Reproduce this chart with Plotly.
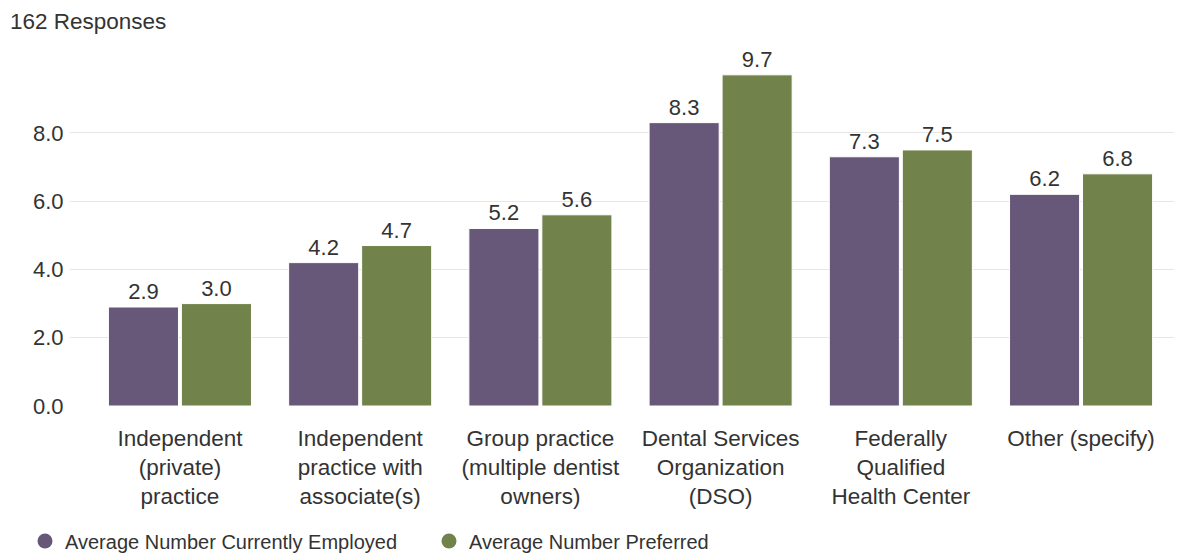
import plotly.graph_objects as go

categories = [
    "Independent<br>(private)<br>practice",
    "Independent<br>practice with<br>associate(s)",
    "Group practice<br>(multiple dentist<br>owners)",
    "Dental Services<br>Organization<br>(DSO)",
    "Federally<br>Qualified<br>Health Center",
    "Other (specify)",
]
employed = [2.9, 4.2, 5.2, 8.3, 7.3, 6.2]
preferred = [3.0, 4.7, 5.6, 9.7, 7.5, 6.8]
series_names = ["Average Number Currently Employed", "Average Number Preferred"]
colors = ["#67587a", "#71834a"]
ytick_vals = [0, 2, 4, 6, 8]

FONT = "Liberation Sans, Arial, sans-serif"
TXT = "#333333"

# the page body adds an 8px offset, so the figure is sized to the visible area
W, H = 1174, 546
L, R, T, B = 62, 0, 60, 148
PW, PH = W - L - R, H - T - B

fig = go.Figure()
for vals, name, col in zip([employed, preferred], series_names, colors):
    fig.add_trace(go.Bar(
        x=list(range(len(categories))), y=vals, name=name,
        marker=dict(color=col, line=dict(color="white", width=1)),
        text=[f"{v:.1f}" for v in vals], textposition="outside",
        textfont=dict(size=22, color=TXT, family=FONT),
        cliponaxis=False, showlegend=False,
    ))
    fig.add_trace(go.Scatter(
        x=[None], y=[None], mode="markers", name=name,
        marker=dict(symbol="circle", size=15, color=col),
    ))

fig.update_layout(
    width=W, height=H,
    margin=dict(l=L, r=R, t=T, b=B, autoexpand=False),
    paper_bgcolor="white", plot_bgcolor="white",
    font=dict(family=FONT, color=TXT, size=22),
    barmode="group", bargap=0.19, bargroupgap=0.04,
    xaxis=dict(
        tickmode="array", tickvals=list(range(len(categories))), ticktext=categories,
        range=[-0.61, 5.56], showgrid=False, zeroline=False, showline=False,
        tickfont=dict(size=22.5, color=TXT), ticks="", automargin=False,
        ticklabelstandoff=16,
    ),
    yaxis=dict(
        range=[0, 9.9], tickvals=ytick_vals, tickformat=".1f",
        showgrid=True, gridcolor="#e6e6e6", gridwidth=1, zeroline=False,
        tickfont=dict(size=22, color=TXT), ticks="outside", ticklen=1,
        tickcolor="rgba(0,0,0,0)", automargin=False,
    ),
    legend=dict(orientation="h", x=-45 / PW, y=-(533 - (T + PH)) / PH,
                xanchor="left", yanchor="middle",
                font=dict(size=20, color=TXT), entrywidth=359, entrywidthmode="pixels"),
    annotations=[dict(text="162 Responses", x=-61 / PW, y=1 + (T - 13) / PH,
                      xref="paper", yref="paper", xanchor="left", yanchor="middle",
                      borderpad=0, showarrow=False, font=dict(size=22.5, color=TXT))],
)
fig.write_html("out.html")
